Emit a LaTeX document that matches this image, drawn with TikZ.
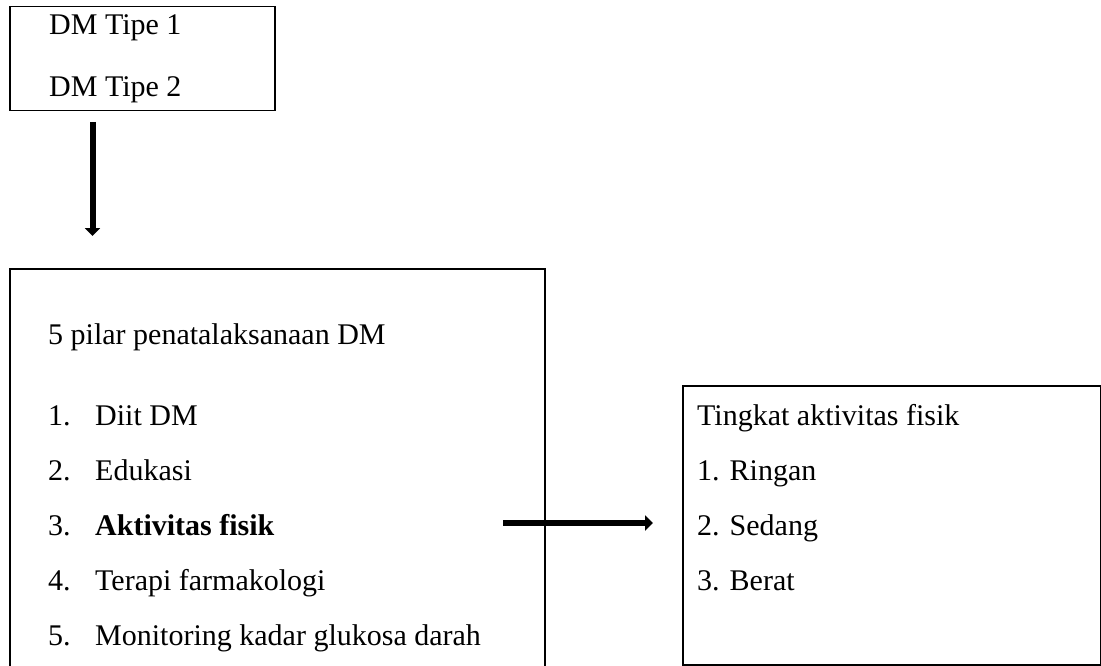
\documentclass[tikz,border=0pt]{standalone}
\usepackage{fontspec}
\setmainfont{Liberation Serif}
\usepackage{tikz}
\usetikzlibrary{calc,arrows.meta,positioning}

\begin{document}
\begin{tikzpicture}[
    x=1pt, y=-1pt,
    every node/.style={font=\fontsize{30}{36}\selectfont},
    frame/.style={draw, line width=1.5pt, inner sep=0pt, anchor=north west},
    txt/.style={inner sep=0pt, anchor=base west},
    arr/.style={-{Triangle[length=8pt, width=15pt]}, line width=6pt}
]
    \useasboundingbox (0,0) rectangle (1101,666);

    % boxes
    \node[frame, minimum width=265pt, minimum height=104pt] (tipe) at (9,6) {};
    \node[frame, minimum width=535pt, minimum height=460pt] (pilar) at (9,268) {};
    \node[frame, minimum width=418pt, minimum height=279pt] (tingkat) at (682,385) {};

    % texts
    \node[txt] (t1) at (49,35) {DM Tipe 1};
    \node[txt] (t2) at (49,97) {DM Tipe 2};

    \node[txt] (p0) at (48,344) {5 pilar penatalaksanaan DM};
    \node[txt] (n1) at (48,425) {1.};
    \node[txt] (n2) at (48,480) {2.};
    \node[txt] (n3) at (48,535) {3.};
    \node[txt] (n4) at (48,590) {4.};
    \node[txt] (n5) at (48,645) {5.};
    \node[txt] (p1) at (95,425) {Diit DM};
    \node[txt] (p2) at (95,480) {Edukasi};
    \node[txt] (p3) at (95,535) {\bfseries Aktivitas fisik};
    \node[txt] (p4) at (95,590) {Terapi farmakologi};
    \node[txt] (p5) at (95,645) {Monitoring kadar glukosa darah};

    \node[txt] (k0) at (697,425) {Tingkat aktivitas fisik};
    \node[txt] (k1) at (697,480) {1. Ringan};
    \node[txt] (k2) at (697,535) {2. Sedang};
    \node[txt] (k3) at (697,590) {3. Berat};

    % arrows
    \coordinate (d1) at (92.5,122);
    \coordinate (d2) at (92.5,236);
    \coordinate (r1) at (503,523);
    \coordinate (r2) at (653,523);
    \draw[arr] (d1) -- (d2);
    \draw[arr] (r1) -- (r2);
\end{tikzpicture}
\end{document}
